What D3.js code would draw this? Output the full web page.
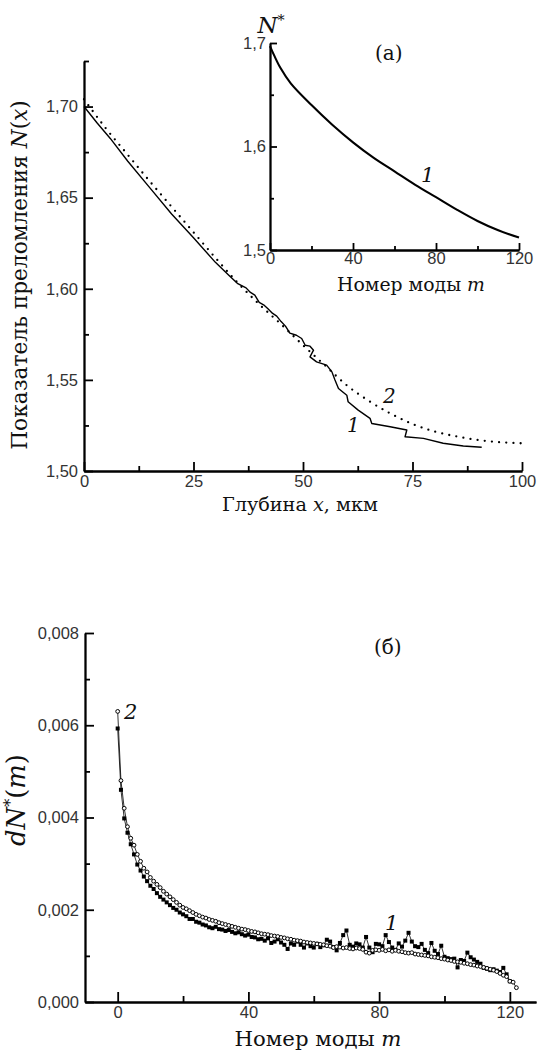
<!DOCTYPE html>
<html>
<head>
<meta charset="utf-8">
<script src="https://cdn.jsdelivr.net/npm/d3@7"></script>
<style>
  body { margin: 0; background: #fff; }
  .tick text { font-family: "Liberation Sans", Arial, sans-serif; font-size: 16.5px; fill: #333; }
  .axis path, .axis line { stroke: #000; stroke-width: 1.8; }
  .title { font-family: "DejaVu Serif", "Liberation Serif", serif; fill: #111; }
</style>
</head>
<body>
<svg width="537" height="1050"></svg>
<script>
// --- panel (а): main, refractive index profile N(x)
var depthSolid = [0, 3, 6, 10, 15, 20, 25, 30, 33, 35, 37, 38, 39, 40, 41, 42, 43, 44, 45, 46, 47, 48.5, 49.7, 50.5, 51.6, 52.4, 51.6, 53.1, 55.4, 56.6, 57.3, 58.1, 60, 60.3, 62.6, 65.3, 65.7, 69.9, 73.7, 73.3, 77.5, 82, 86.6, 90.8];
var indexSolid = [1.700, 1.691, 1.6825, 1.670, 1.6555, 1.641, 1.628, 1.6145, 1.6075, 1.603, 1.6005, 1.598, 1.5965, 1.5925, 1.5912, 1.589, 1.5866, 1.585, 1.582, 1.5795, 1.5757, 1.5745, 1.5727, 1.569, 1.5685, 1.5663, 1.5626, 1.5599, 1.5581, 1.5544, 1.5499, 1.5453, 1.5416, 1.538, 1.5334, 1.5289, 1.5261, 1.5243, 1.5225, 1.5188, 1.5179, 1.5152, 1.5137, 1.513];
var depthDotted = [0, 5, 10, 15, 20, 25, 30, 35, 40, 45, 50, 55, 60, 65, 70, 75, 80, 85, 90, 95, 100];
var indexDotted = [1.704, 1.688, 1.6735, 1.659, 1.645, 1.631, 1.617, 1.6035, 1.5915, 1.5805, 1.569, 1.558, 1.547, 1.5385, 1.5315, 1.5258, 1.5217, 1.519, 1.517, 1.5158, 1.5152];
var depthTicks = [0, 25, 50, 75, 100];
var indexTicks = [1.50, 1.55, 1.60, 1.65, 1.70];

// --- inset: effective index N* vs mode number
var insetModes = [0, 2, 5, 10, 20, 30, 40, 50, 60, 70, 80, 90, 100, 110, 120];
var insetIndex = [1.697, 1.688, 1.676, 1.661, 1.640, 1.621, 1.604, 1.589, 1.576, 1.563, 1.551, 1.539, 1.528, 1.519, 1.512];
var insetXTicks = [0, 40, 80, 120];
var insetYTicks = [1.5, 1.6, 1.7];

// --- panel (б): dN*(m)
var dSquares = [0.00593, 0.0046, 0.00398, 0.00367, 0.00342, 0.0032, 0.00298, 0.00285, 0.00272, 0.00262,
  0.00252, 0.00245, 0.00236, 0.00228, 0.00222, 0.00216, 0.0021, 0.00204, 0.002, 0.00194,
  0.0019, 0.00186, 0.0018, 0.0018, 0.00174, 0.00172, 0.00168, 0.00166, 0.00162, 0.0016,
  0.00163, 0.00158, 0.00157, 0.00154, 0.00156, 0.00152, 0.00149, 0.00151, 0.00147, 0.00144,
  0.00146, 0.00141, 0.0014, 0.00136, 0.00137, 0.00133, 0.00138, 0.00128, 0.00131, 0.00136,
  0.00129, 0.00124, 0.00115, 0.00127, 0.00124, 0.00131, 0.00124, 0.00118, 0.00127, 0.00121,
  0.00118, 0.00126, 0.00119, 0.00123, 0.00135, 0.00131, 0.00119, 0.00112, 0.00128, 0.00145,
  0.00155, 0.00124, 0.0012, 0.00127, 0.00125, 0.00118, 0.00141, 0.00118, 0.00108, 0.00126,
  0.00125, 0.00121, 0.00145, 0.0013, 0.00118, 0.00113, 0.00127, 0.0012, 0.00133, 0.0015,
  0.00131, 0.00121, 0.00119, 0.00126, 0.00113, 0.00106, 0.00128, 0.00111, 0.00104, 0.00122,
  0.00098, 0.00095, 0.00093, 0.00094, 0.00075, 0.00091, 0.00089, 0.00107, 0.00097, 0.00092,
  0.00087, 0.00083, 0.00074, 0.00072, 0.00069, 0.00071, 0.00068, 0.00065, 0.00074, 0.0006,
  0.00045];
var dCircles = [0.0063, 0.0048, 0.0042, 0.0038, 0.00355, 0.0034, 0.0032, 0.00305, 0.0029, 0.00282,
  0.0027, 0.00262, 0.00255, 0.00248, 0.0024, 0.00234, 0.00228, 0.00222, 0.00216, 0.0021,
  0.00205, 0.00202, 0.00198, 0.00194, 0.0019, 0.00187, 0.00184, 0.00182, 0.00179, 0.00177,
  0.00175, 0.00172, 0.0017, 0.00168, 0.00166, 0.00164, 0.00162, 0.0016, 0.00158, 0.00157,
  0.00155, 0.00153, 0.00152, 0.0015, 0.00148, 0.00147, 0.00146, 0.00144, 0.00143, 0.00142,
  0.0014, 0.00139, 0.00137, 0.00136, 0.00134, 0.00133, 0.00132, 0.0013, 0.00129, 0.00128,
  0.00127, 0.00126, 0.00125, 0.00124, 0.00122, 0.00121, 0.00118, 0.0012, 0.00119, 0.00117,
  0.00118, 0.00116, 0.00115, 0.00117, 0.00116, 0.00114, 0.00108, 0.00106, 0.00112, 0.00113,
  0.00112, 0.00114, 0.00111, 0.00113, 0.0011, 0.00112, 0.0011, 0.00109, 0.00107, 0.00106,
  0.00107, 0.00104, 0.00103, 0.00102, 0.00101, 0.001, 0.00098, 0.00097, 0.00096, 0.00094,
  0.00093, 0.00091, 0.0009, 0.00088, 0.00087, 0.00086, 0.00084, 0.00083, 0.00081, 0.0008,
  0.00078, 0.00077, 0.00075, 0.00073, 0.00071, 0.00069, 0.00066, 0.00062, 0.00058, 0.00055,
  0.00045, 0.00043, 0.00031];
var modeTicks = [0, 40, 80, 120];
var dTicks = [0, 0.002, 0.004, 0.006, 0.008];

var ru = d3.formatLocale({decimal: ",", thousands: "\u00a0", grouping: [3], currency: ["", ""]});
var svg = d3.select("svg");

// axis with inward ticks; minor ticks drawn without labels
function drawAxis(scale, orient, pos, majors, minors, fmt, majLen, minLen, pad) {
  var make = orient === "bottom" ? d3.axisBottom : d3.axisLeft;
  var tr = orient === "bottom" ? "translate(0," + pos + ")" : "translate(" + pos + ",0)";
  svg.append("g").attr("class", "axis").attr("transform", tr)
    .call(make(scale).tickValues(minors).tickSize(-minLen).tickSizeOuter(0).tickFormat(""));
  return svg.append("g").attr("class", "axis").attr("transform", tr)
    .call(make(scale).tickValues(majors).tickSize(-majLen).tickSizeOuter(0).tickFormat(fmt).tickPadding(pad));
}

// axis title; font size is scaled so that the text spans about `len` px
function title(x, y, parts, size, len, rotate) {
  var t = svg.append("text").attr("class", "title")
    .attr("font-size", size).attr("text-anchor", "middle");
  if (rotate) t.attr("transform", "translate(" + x + "," + y + ") rotate(-90)");
  else t.attr("x", x).attr("y", y);
  parts.forEach(function(p) {
    var s = t.append("tspan").text(p[0]);
    if (p[1] === "i") s.attr("font-style", "italic");
    if (p[1] === "sup") s.style("font-size", "0.62em").attr("dy", "-0.55em");
    if (p[1] === "down") s.attr("dy", "0.34em");
  });
  var w = t.node().getComputedTextLength();
  if (len && w > 0) t.attr("font-size", size * len / w);
  return t;
}

function label(x, y, txt, size, italic) {
  svg.append("text").attr("class", "title").attr("x", x).attr("y", y)
    .attr("font-size", size).attr("font-style", italic ? "italic" : "normal").text(txt);
}

// ===== panel (а) main =====
var xTop = d3.scaleLinear().domain([0, 100]).range([84, 522]);
var yTop = d3.scaleLinear().domain([1.5, 1.725]).range([471, 61]);

drawAxis(xTop, "bottom", 471, depthTicks, [12.5, 37.5, 62.5, 87.5], d3.format("d"), 9, 5, 4);
drawAxis(yTop, "left", 84, indexTicks, [1.525, 1.575, 1.625, 1.675, 1.725], ru.format(".2f"), 9, 5, 6);

svg.append("path")
  .attr("d", d3.line().x(function(d, i) { return xTop(depthDotted[i]); })
    .y(function(d) { return yTop(d); }).curve(d3.curveMonotoneX)(indexDotted))
  .attr("fill", "none").attr("stroke", "#000").attr("stroke-width", 2.3)
  .attr("stroke-dasharray", "0,7.2").attr("stroke-linecap", "round");

svg.append("path")
  .attr("d", d3.line().x(function(d, i) { return xTop(depthSolid[i]); })
    .y(function(d) { return yTop(d); })(indexSolid))
  .attr("fill", "none").attr("stroke", "#000").attr("stroke-width", 1.4)
  .attr("stroke-linejoin", "round");

title(300, 511, [["Глубина "], ["x", "i"], [", мкм"]], 20, 156);
title(27, 275, [["Показатель преломления "], ["N", "i"], ["("], ["x", "i"], [")"]], 20, 350, true);
label(383, 403, "2", 20, true);
label(347, 432, "1", 20, true);

// ===== inset =====
var xIn = d3.scaleLinear().domain([0, 120]).range([270, 519]);
var yIn = d3.scaleLinear().domain([1.5, 1.7]).range([250, 43]);

drawAxis(xIn, "bottom", 250, insetXTicks, [20, 60, 100], d3.format("d"), 7, 4, 2);
drawAxis(yIn, "left", 270, insetYTicks, [1.55, 1.65], ru.format(".1f"), 7, 4, 4);

svg.append("path")
  .attr("d", d3.line().x(function(d, i) { return xIn(insetModes[i]); })
    .y(function(d) { return yIn(d); }).curve(d3.curveCatmullRom)(insetIndex))
  .attr("fill", "none").attr("stroke", "#000").attr("stroke-width", 2.1);

title(411, 291, [["Номер моды "], ["m", "i"]], 20, 148);
title(271, 33, [["N", "i"], ["*", "sup"]], 23);
label(375, 60, "(а)", 20, false);
label(421, 182, "1", 21, true);

// ===== panel (б) =====
var xB = d3.scaleLinear().domain([-10, 128]).range([85, 536]);
var yB = d3.scaleLinear().domain([0, 0.008]).range([1002, 633]);

drawAxis(xB, "bottom", 1002, modeTicks, [20, 60, 100], d3.format("d"), 10, 6, 4);
drawAxis(yB, "left", 85, dTicks, [0.001, 0.003, 0.005, 0.007], ru.format(".3f"), 9, 5, 6);

var lineB = d3.line().x(function(d, i) { return xB(i); }).y(function(d) { return yB(d); });
svg.append("path").attr("d", lineB(dSquares))
  .attr("fill", "none").attr("stroke", "#000").attr("stroke-width", 0.8);
svg.append("path").attr("d", lineB(dCircles))
  .attr("fill", "none").attr("stroke", "#000").attr("stroke-width", 0.8);

svg.append("g").selectAll("rect").data(dSquares).enter().append("rect")
  .attr("x", function(d, i) { return xB(i) - 2; })
  .attr("y", function(d) { return yB(d) - 2; })
  .attr("width", 4).attr("height", 4).attr("fill", "#000");

svg.append("g").selectAll("circle").data(dCircles).enter().append("circle")
  .attr("cx", function(d, i) { return xB(i); })
  .attr("cy", function(d) { return yB(d); })
  .attr("r", 1.9).attr("fill", "#fff").attr("stroke", "#000").attr("stroke-width", 1);

title(318, 1046, [["Номер моды "], ["m", "i"]], 21, 167);
title(25, 800, [["d", "i"], ["N", "i"], ["*", "sup"], ["(", "down"], ["m", "i"], [")"]], 21, 92, true);
label(374, 654, "(б)", 20, false);
label(124, 719, "2", 21, true);
label(385, 930, "1", 21, true);
</script>
</body>
</html>
